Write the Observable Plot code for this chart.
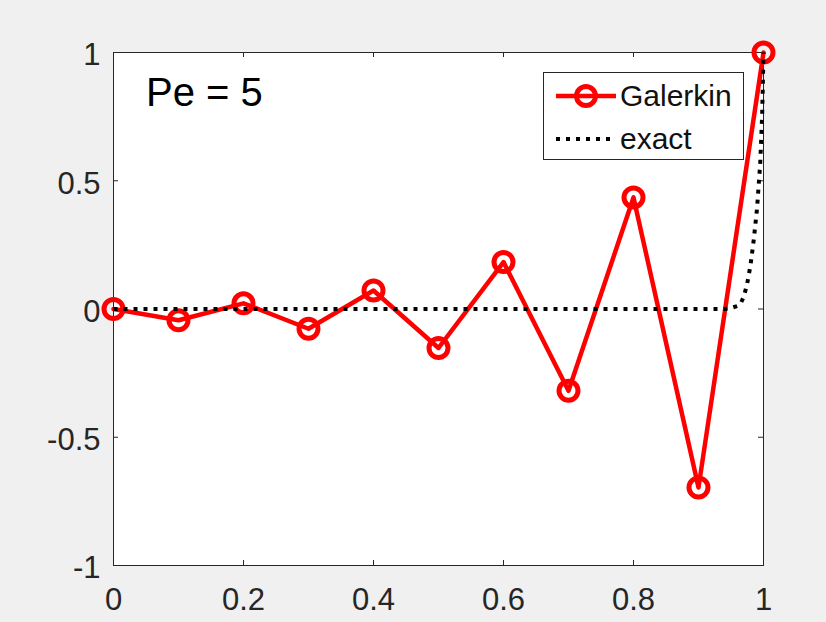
<!DOCTYPE html>
<html>
<head>
<meta charset="utf-8">
<script src="https://cdn.jsdelivr.net/npm/d3@7"></script>
<script src="https://cdn.jsdelivr.net/npm/@observablehq/plot@0.6"></script>
<style>
  html, body { margin: 0; padding: 0; background: #f0f0f0; }
  #wrap { position: relative; width: 826px; height: 622px; font-family: "Liberation Sans", Arial, sans-serif; color: #262626; }
  #legend { position: absolute; left: 543px; top: 72px; width: 199px; height: 86px; background: #fff; border: 1px solid #262626; box-sizing: content-box; }
  .row { position: absolute; left: 0; height: 40px; display: flex; align-items: center; }
  .row span { font-size: 30px; color: #111; margin-left: 4px; }
  #pe { position: absolute; left: 146px; top: 70px; font-size: 40px; color: #000; }
</style>
</head>
<body>
<div id="wrap">
  <div id="chart"></div>
  <div id="pe">Pe = 5</div>
  <div id="legend"></div>
</div>
<script>
// Data
const xGalerkin = [0, 0.1, 0.2, 0.3, 0.4, 0.5, 0.6, 0.7, 0.8, 0.9, 1];
const yGalerkin = [0, -0.044, 0.022, -0.077, 0.072, -0.152, 0.183, -0.319, 0.435, -0.696, 1];
const xExact = [0, 0.94, 0.95, 0.96, 0.965, 0.97, 0.975, 0.98, 0.985, 0.99, 0.995, 0.998, 1];
const yExact = [0, 0, 0.004, 0.012, 0.022, 0.05, 0.1, 0.17, 0.27, 0.39, 0.57, 0.76, 1];
const xTicks = [0, 0.2, 0.4, 0.6, 0.8, 1];
const yTicks = [-1, -0.5, 0, 0.5, 1];
const seriesNames = ["Galerkin", "exact"];

const galerkin = xGalerkin.map((x, i) => ({x, y: yGalerkin[i]}));
const exact = xExact.map((x, i) => ({x, y: yExact[i]}));

const W = 826, H = 622, mL = 113, mR = 63, mT = 52, mB = 57;
const innerW = W - mL - mR, innerH = H - mT - mB;
const axisColor = "#262626";
const tickLen = 5;
const innerXTicks = xTicks.slice(1, -1);
const innerYTicks = yTicks.slice(1, -1);

const chart = Plot.plot({
  width: W, height: H,
  marginLeft: mL, marginRight: mR, marginTop: mT, marginBottom: mB,
  style: {background: "transparent", fontFamily: "Liberation Sans, Arial, sans-serif", fontSize: "31px", color: axisColor, overflow: "visible"},
  x: {domain: [0, 1], label: null},
  y: {domain: [-1, 1], label: null},
  marks: [
    Plot.frame({fill: "white", stroke: null}),
    Plot.axisX(xTicks, {anchor: "bottom", label: null, tickSize: 0, tickPadding: 22, tickFormat: d => String(d), fontSize: 31, fill: axisColor}),
    Plot.axisY(yTicks, {anchor: "left", label: null, tickSize: 0, tickPadding: 13, tickFormat: d => String(d), fontSize: 31, fill: axisColor, dy: 3}),
    Plot.tickX(innerXTicks, {x: d => d, insetTop: innerH - tickLen, stroke: axisColor}),
    Plot.tickX(innerXTicks, {x: d => d, insetBottom: innerH - tickLen, stroke: axisColor}),
    Plot.tickY(innerYTicks, {y: d => d, insetRight: innerW - tickLen, stroke: axisColor}),
    Plot.tickY(innerYTicks, {y: d => d, insetLeft: innerW - tickLen, stroke: axisColor}),
    Plot.frame({stroke: axisColor, strokeWidth: 1}),
    Plot.line(galerkin, {x: "x", y: "y", stroke: "#ff0000", strokeWidth: 4.5}),
    Plot.dot(galerkin, {x: "x", y: "y", r: 9.5, stroke: "#ff0000", strokeWidth: 5, fill: "none"}),
    Plot.line(exact, {x: "x", y: "y", stroke: "#000", strokeWidth: 4, strokeDasharray: "4,6", strokeLinecap: "butt"})
  ]
});
document.getElementById("chart").appendChild(chart);

// Legend
const legend = document.getElementById("legend");
const rows = [
  {name: seriesNames[0], top: 3, svg: '<svg width="72" height="30"><line x1="12" y1="15" x2="72" y2="15" stroke="#ff0000" stroke-width="4.5"/><circle cx="42" cy="15" r="9.5" fill="none" stroke="#ff0000" stroke-width="5"/></svg>'},
  {name: seriesNames[1], top: 46, svg: '<svg width="72" height="30"><line x1="12" y1="15" x2="72" y2="15" stroke="#000" stroke-width="4" stroke-dasharray="4,6"/></svg>'}
];
rows.forEach(r => {
  const div = document.createElement("div");
  div.className = "row";
  div.style.top = r.top + "px";
  div.innerHTML = r.svg + "<span>" + r.name + "</span>";
  legend.appendChild(div);
});
</script>
</body>
</html>
